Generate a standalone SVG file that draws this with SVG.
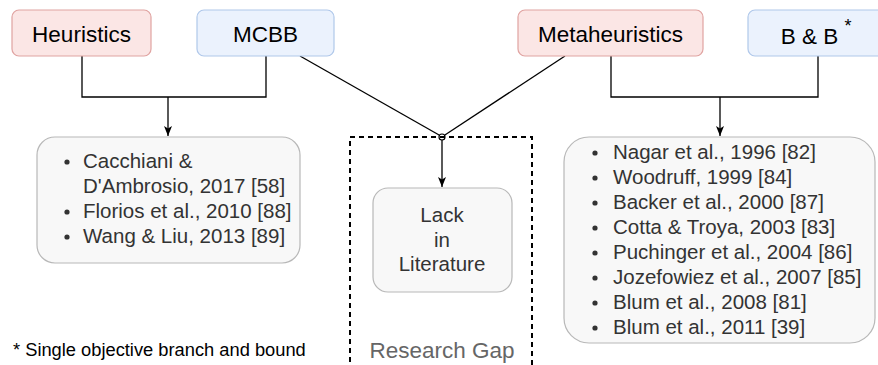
<svg xmlns="http://www.w3.org/2000/svg" width="878" height="365" viewBox="0 0 878 365">
<defs>
<style>
.red{fill:#fbe6e5;stroke:#e0a3a1;stroke-width:1.2}
.blue{fill:#ebf2fd;stroke:#b0c8ea;stroke-width:1.2}
.gray{fill:#f8f8f8;stroke:#b8b8b8;stroke-width:1.2}
.lbl{font-family:"Liberation Sans",Arial,sans-serif;font-size:22.5px;fill:#000;text-anchor:middle}
.lst{font-family:"Liberation Sans",Arial,sans-serif;font-size:20.5px;fill:#333}
.ctr{text-anchor:middle}
.conn{fill:none;stroke:#000;stroke-width:1.3}
.bul{fill:#333}
</style>
<marker id="arr" viewBox="0 0 10 10" refX="10" refY="5" markerWidth="10" markerHeight="10" markerUnits="userSpaceOnUse" orient="auto">
<path d="M0,1 L10,5 L0,9 L2.5,5 Z" fill="#000"/>
</marker>
</defs>

<g id="connectors">
<path class="conn" d="M82,56 V97 H266 V56"/>
<path class="conn" d="M168,97 V136" marker-end="url(#arr)"/>
<path class="conn" d="M611,56 V97 H818 V56"/>
<path class="conn" d="M720,97 V136" marker-end="url(#arr)"/>
<path class="conn" d="M300,56 L439.5,135.2"/>
<path class="conn" d="M565,56 L444.5,135.2"/>
<path class="conn" d="M442,140 V187" marker-end="url(#arr)"/>
<circle cx="442" cy="137" r="3" fill="#fff" stroke="#000" stroke-width="1.2"/>
</g>

<g id="research-gap">
<rect x="350" y="137" width="182" height="250" fill="none" stroke="#000" stroke-width="2" stroke-dasharray="5 4"/>
<text x="442" y="358" font-family="Liberation Sans,Arial,sans-serif" font-size="22.5" fill="#666" text-anchor="middle">Research Gap</text>
</g>

<g id="heuristics">
<rect class="red" x="12" y="10" width="139" height="46" rx="7"/>
<text class="lbl" x="81.5" y="41.5">Heuristics</text>
</g>
<g id="mcbb">
<rect class="blue" x="197" y="10" width="137" height="46" rx="7"/>
<text class="lbl" x="265.5" y="41.5">MCBB</text>
</g>
<g id="metaheuristics">
<rect class="red" x="518" y="10" width="185" height="46" rx="7"/>
<text class="lbl" x="610.5" y="41.5">Metaheuristics</text>
</g>
<g id="bandb">
<rect class="blue" x="748" y="10" width="139" height="46" rx="7"/>
<text class="lbl" x="809.5" y="44">B &amp; B</text>
<text x="848" y="32" font-family="Liberation Sans,Arial,sans-serif" font-size="18" fill="#000" text-anchor="middle">*</text>
</g>

<g id="left-list">
<rect class="gray" x="37" y="137" width="263" height="126" rx="18"/>
<circle class="bul" cx="67" cy="162" r="2.6"/>
<circle class="bul" cx="67" cy="212" r="2.6"/>
<circle class="bul" cx="67" cy="237" r="2.6"/>
<text class="lst"><tspan x="83" y="168">Cacchiani &amp;</tspan><tspan x="83" y="193">D'Ambrosio, 2017 [58]</tspan><tspan x="83" y="218">Florios et al., 2010 [88]</tspan><tspan x="83" y="243">Wang &amp; Liu, 2013 [89]</tspan></text>
</g>

<g id="lack">
<rect class="gray" x="373" y="188" width="139" height="104" rx="15"/>
<text class="lst ctr"><tspan x="442" y="222">Lack</tspan><tspan x="442" y="247">in</tspan><tspan x="442" y="271">Literature</tspan></text>
</g>

<g id="right-list">
<rect class="gray" x="564" y="137" width="311" height="206" rx="25"/>
<circle class="bul" cx="595" cy="153" r="2.6"/>
<circle class="bul" cx="595" cy="178" r="2.6"/>
<circle class="bul" cx="595" cy="203" r="2.6"/>
<circle class="bul" cx="595" cy="228" r="2.6"/>
<circle class="bul" cx="595" cy="253" r="2.6"/>
<circle class="bul" cx="595" cy="278" r="2.6"/>
<circle class="bul" cx="595" cy="303" r="2.6"/>
<circle class="bul" cx="595" cy="328" r="2.6"/>
<text class="lst"><tspan x="613" y="159">Nagar et al., 1996 [82]</tspan><tspan x="613" y="184">Woodruff, 1999 [84]</tspan><tspan x="613" y="209">Backer et al., 2000 [87]</tspan><tspan x="613" y="234">Cotta &amp; Troya, 2003 [83]</tspan><tspan x="613" y="259">Puchinger et al., 2004 [86]</tspan><tspan x="613" y="284">Jozefowiez et al., 2007 [85]</tspan><tspan x="613" y="309">Blum et al., 2008 [81]</tspan><tspan x="613" y="334">Blum et al., 2011 [39]</tspan></text>
</g>

<g id="footnote">
<text x="13" y="356" font-family="Liberation Sans,Arial,sans-serif" font-size="18.3" fill="#000">* Single objective branch and bound</text>
</g>
</svg>
